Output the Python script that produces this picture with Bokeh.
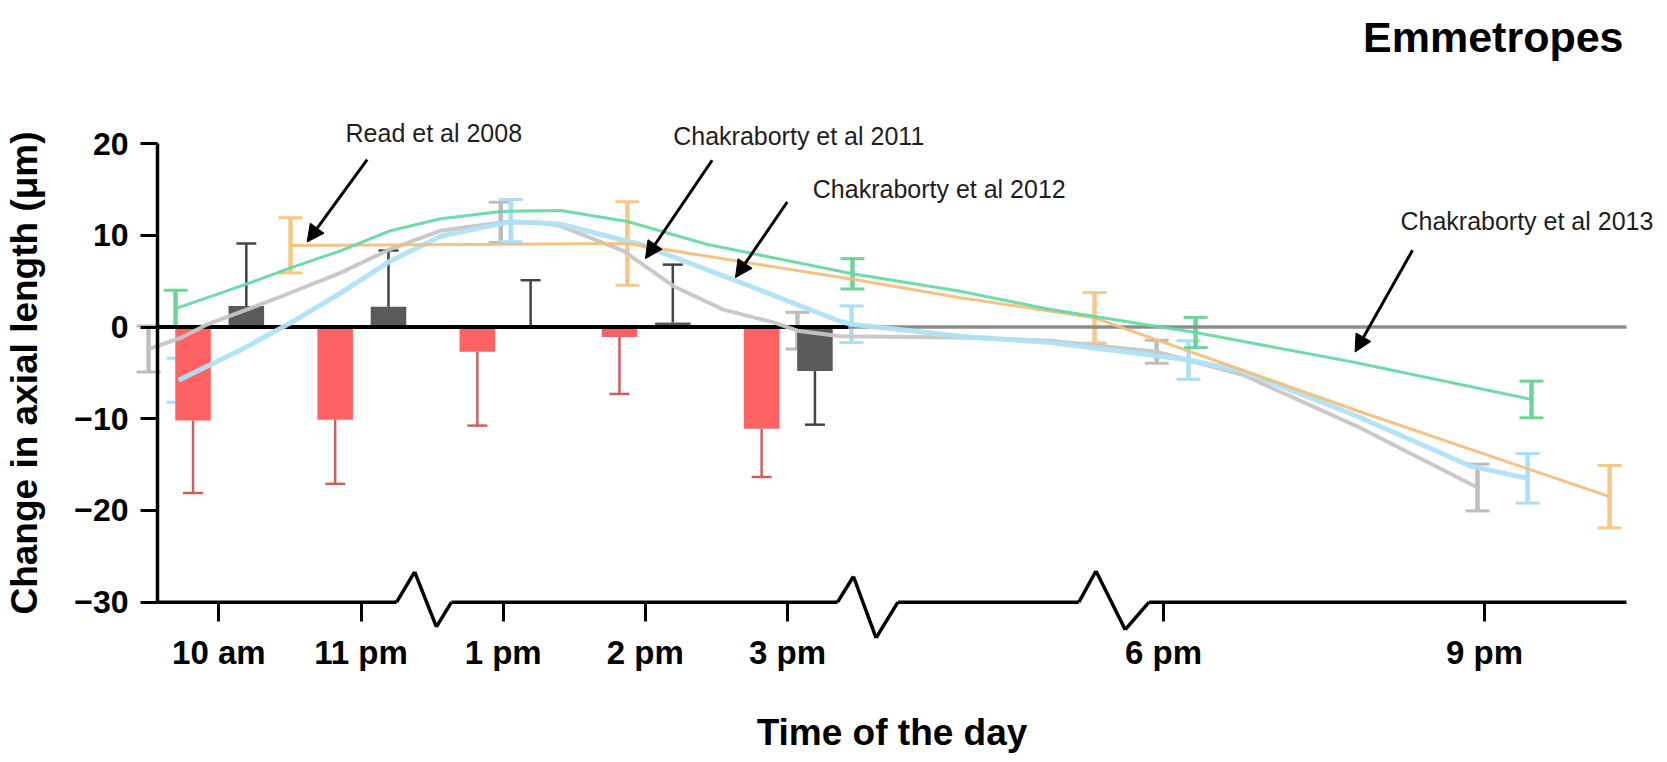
import numpy as np
from bokeh.plotting import figure
from bokeh.models import (ColumnDataSource, FixedTicker, Whisker, TeeHead, Arrow,
                          NormalHead, Label, Range1d)
from bokeh.embed import file_html
from bokeh.resources import INLINE

# ---------------- data ----------------
# x is a "slot" coordinate of the broken time axis (10 am = 1, 11 pm = 2, ...)
tick_pos = [1, 2, 3, 4, 5, 7.645, 9.903]
tick_labels = ["10 am", "11 pm", "1 pm", "2 pm", "3 pm", "6 pm", "9 pm"]
y_ticks = [-30, -20, -10, 0, 10, 20]

# bar study (red) and bar study (dark grey)
bar_pos = [1, 2, 3, 4, 5]
red_vals = [-10.2, -10.1, -2.7, -1.1, -11.1]
red_err = [7.9, 7.0, 8.05, 6.2, 5.25]
grey_vals = [2.3, 2.2, 0.1, 0.5, -4.8]
grey_err = [6.8, 6.15, 5.0, 6.3, 5.85]

# Read et al 2008 (orange)
read_x = [1.504, 3.874, 7.160, 10.783]
read_y = [8.9, 9.1, 1.0, -18.5]
read_err = [3.0, 4.55, 2.75, 3.4]
read_curve_x = [1.504, 3.874, 5.457, 6.216, 7.160, 9.003, 10.783]
read_curve_y = [8.9, 9.1, 5.2, 3.2, 1.0, -9.1, -18.5]

# Chakraborty et al 2011 (light grey)
c11_x = [0.505, 2.983, 5.070, 7.597, 9.854]
c11_y = [-2.4, 11.4, -0.4, -2.7, -17.5]
c11_err = [2.5, 2.2, 2.0, 1.25, 2.55]
c11_curve_x = [0.505, 0.730, 0.920, 1.384, 1.855, 2.207, 2.560, 2.983, 3.264, 3.405,
               3.846, 4.198, 4.550, 4.902, 5.070, 5.373, 6.216, 6.850, 7.597, 8.201,
               9.003, 9.854]
c11_curve_y = [-2.4, -1.2, 0.3, 3.0, 5.9, 8.5, 10.5, 11.4, 11.4, 11.0,
               8.3, 4.45, 1.9, 0.5, -0.4, -1.0, -1.15, -1.5, -2.7, -5.2,
               -10.8, -17.5]

# Chakraborty et al 2012 (light blue)
c12_x = [0.716, 3.053, 5.450, 7.821, 10.206]
c12_y = [-5.8, 11.6, 0.3, -3.6, -16.5]
c12_err = [2.4, 2.3, 2.0, 2.1, 2.7]
c12_curve_x = [0.716, 1.153, 1.504, 1.855, 2.207, 2.560, 3.053, 3.405, 3.966, 4.670,
               5.373, 5.450, 6.216, 6.850, 7.526, 7.821, 8.201, 9.003, 9.812, 10.206]
c12_curve_y = [-5.8, -2.5, 0.45, 3.7, 7.2, 9.9, 11.5, 11.2, 9.0, 4.85,
               0.6, 0.3, -1.0, -1.7, -3.0, -3.6, -4.8, -9.7, -15.2, -16.5]

# Chakraborty et al 2013 (green)
c13_x = [0.695, 5.457, 7.871, 10.234]
c13_y = [2.0, 5.8, -0.6, -7.9]
c13_err = [2.0, 1.65, 1.65, 2.0]
c13_curve_x = [0.695, 1.153, 1.504, 1.855, 2.207, 2.560, 2.983, 3.405, 3.874, 4.437,
               5.457, 6.216, 6.850, 7.871, 9.003, 10.234]
c13_curve_y = [2.0, 4.45, 6.45, 8.3, 10.5, 11.8, 12.6, 12.7, 11.5, 9.0,
               5.8, 3.9, 1.9, -0.6, -3.9, -7.9]

# study labels with their arrows (text anchor, arrow tail, arrow tip)
study_names = ["Read et al 2008", "Chakraborty et al 2011",
               "Chakraborty et al  2012", "Chakraborty et al 2013"]
label_x = [1.891, 4.196, 5.178, 9.312]
label_y = [21.1, 20.83, 15.02, 11.56]
arrow_x0 = [2.043, 4.470, 4.998, 9.397]
arrow_y0 = [18.26, 18.18, 13.63, 8.37]
arrow_x1 = [1.621, 4.001, 4.634, 8.993]
arrow_y1 = [9.27, 7.46, 5.39, -2.73]

# broken x-axis line (with zig-zag breaks)
axis_path_x = [0.568, 2.250, 2.377, 2.530, 2.636, 5.352, 5.464, 5.623, 5.777,
               7.050, 7.170, 7.376, 7.543, 10.902]
axis_path_y = [-30, -30, -26.7, -32.7, -30, -30, -27.2, -33.9, -30,
               -30, -26.6, -33.0, -30, -30]

# zero line: black under the bars, grey afterwards
zero_black_x = [0.568, 5.43]
zero_grey_x = [5.43, 10.902]

# ---------------- figure ----------------
FONT = "Liberation Sans"
AXIS_X = 0.568     # where the y axis crosses
AXIS_Y = -30       # where the x axis crosses
X_END = 10.902     # right end of the x axis
p = figure(width=1658, height=754, output_backend="svg", toolbar_location=None,
           x_range=Range1d(-0.5364, 11.1273), y_range=Range1d(-46.608, 27.53),
           min_border_left=0, min_border_right=0, min_border_top=0,
           min_border_bottom=0)
p.background_fill_color = "white"
p.border_fill_color = "white"
p.outline_line_color = None
p.grid.visible = False

p.title.text = "Emmetropes"
p.title.align = "right"
p.title.vertical_align = "top"
p.title.text_font = FONT
p.title.text_font_size = "43px"
p.title.text_font_style = "bold"
p.title.text_color = "black"
p.title.standoff = 24
p.title.offset = 35

# bars
red_off, grey_off, bar_w = -0.182, 0.193, 0.25
bp = np.array(bar_pos, dtype=float)
rv, re_ = np.array(red_vals), np.array(red_err)
gv, ge = np.array(grey_vals), np.array(grey_err)
p.vbar(x=bp + red_off, top=rv, bottom=0, width=bar_w, fill_color="#ff6262",
       line_color=None)
p.vbar(x=bp + grey_off, top=gv, bottom=0, width=bar_w, fill_color="#5a5a5a",
       line_color=None)


def bar_whiskers(xs, vals, errs, color):
    sign = np.where(vals >= 0, 1.0, -1.0)
    end = vals + sign * errs
    pos = sign > 0
    neg = ~pos
    if pos.any():
        src = ColumnDataSource(dict(x=xs[pos], lo=vals[pos], hi=end[pos]))
        p.add_layout(Whisker(source=src, base="x", lower="lo", upper="hi",
                             line_color=color, line_width=2.5, lower_head=None,
                             upper_head=TeeHead(size=20, line_color=color, line_width=2.5)))
    if neg.any():
        src = ColumnDataSource(dict(x=xs[neg], lo=end[neg], hi=vals[neg]))
        p.add_layout(Whisker(source=src, base="x", lower="lo", upper="hi",
                             line_color=color, line_width=2.5, upper_head=None,
                             lower_head=TeeHead(size=20, line_color=color, line_width=2.5)))


bar_whiskers(bp + red_off, rv, re_, "#cc6060")
bar_whiskers(bp + grey_off, gv, ge, "#444444")

# zero lines
p.line(zero_black_x, [0, 0], line_color="black", line_width=4)
p.line(zero_grey_x, [0, 0], line_color="#8c8c8c", line_width=3.5)

# study curves
series = [
    (c11_curve_x, c11_curve_y, c11_x, c11_y, c11_err, "#c6c6c6", "#bdbdbd", 4),
    (c12_curve_x, c12_curve_y, c12_x, c12_y, c12_err, "#aee2f6", "#a9e0f5", 5),
    (read_curve_x, read_curve_y, read_x, read_y, read_err, "#f3bf7c", "#f6c888", 3),
    (c13_curve_x, c13_curve_y, c13_x, c13_y, c13_err, "#66d9a4", "#6fd498", 3),
]
for cx, cy, px, py, pe, lc, ec, lw in series:
    p.line(cx, cy, line_color=lc, line_width=lw, line_alpha=0.95)
    pyv, pev = np.array(py), np.array(pe)
    src = ColumnDataSource(dict(x=px, lo=pyv - pev, hi=pyv + pev))
    p.add_layout(Whisker(source=src, base="x", lower="lo", upper="hi",
                         line_color=ec, line_width=4.5,
                         upper_head=TeeHead(size=24, line_color=ec, line_width=3),
                         lower_head=TeeHead(size=24, line_color=ec, line_width=3)))

# broken x axis line
ax = np.array(axis_path_x)
ay = np.array(axis_path_y)
axis_src = ColumnDataSource(dict(x0=ax[:-1], y0=ay[:-1], x1=ax[1:], y1=ay[1:]))
p.add_layout(Arrow(source=axis_src, x_start="x0", y_start="y0", x_end="x1", y_end="y1",
                   end=None, line_color="black", line_width=3.5))

# study labels and arrows
for name, lx, ly in zip(study_names, label_x, label_y):
    p.add_layout(Label(x=lx, y=ly, text=name, text_font=FONT, text_font_size="25px",
                       text_color="#1e1e1e", text_baseline="alphabetic"))
arr_src = ColumnDataSource(dict(x0=arrow_x0, y0=arrow_y0, x1=arrow_x1, y1=arrow_y1))
p.add_layout(Arrow(source=arr_src, x_start="x0", y_start="y0", x_end="x1", y_end="y1",
                   line_color="black", line_width=3,
                   end=NormalHead(size=17, fill_color="black", line_color="black")))

# axes (fixed inside the frame so that breaks and labels are not clipped)
xa = p.xaxis[0]
xa.fixed_location = AXIS_Y
xa.bounds = (AXIS_X, X_END)
xa.ticker = FixedTicker(ticks=tick_pos)
xa.major_label_overrides = {t: l for t, l in zip(tick_pos, tick_labels)}
xa.axis_line_color = None
xa.major_tick_out = 19
xa.major_tick_in = 0
xa.major_tick_line_width = 3
xa.minor_tick_line_color = None
xa.major_label_standoff = 13
xa.major_label_text_font = FONT
xa.major_label_text_font_size = "33px"
xa.major_label_text_font_style = "bold"
xa.major_label_text_color = "black"
xa.axis_label = "Time of the day"
xa.axis_label_text_font = FONT
xa.axis_label_text_font_size = "37px"
xa.axis_label_text_font_style = "bold"
xa.axis_label_text_color = "black"
xa.axis_label_standoff = 37

ya = p.yaxis[0]
ya.fixed_location = AXIS_X
ya.bounds = (-30, 20)
ya.ticker = FixedTicker(ticks=y_ticks)
ya.axis_line_width = 3.5
ya.axis_line_color = "black"
ya.major_tick_out = 17
ya.major_tick_in = 0
ya.major_tick_line_width = 3
ya.minor_tick_line_color = None
ya.major_label_standoff = 12
ya.major_label_text_font = FONT
ya.major_label_text_font_size = "32px"
ya.major_label_text_font_style = "bold"
ya.major_label_text_color = "black"
ya.axis_label = "Change in axial length (μm)"
ya.axis_label_text_font = FONT
ya.axis_label_text_font_size = "37px"
ya.axis_label_text_font_style = "bold"
ya.axis_label_text_color = "black"
ya.axis_label_standoff = 26

open("out.html", "w").write(file_html(p, INLINE))
